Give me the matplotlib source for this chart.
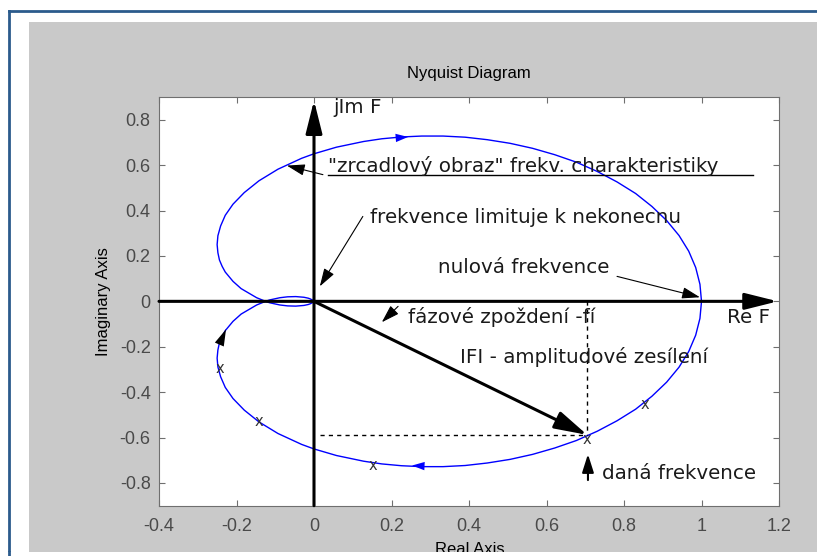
import matplotlib.pyplot as plt
from matplotlib.patches import Rectangle
from matplotlib.lines import Line2D

# lower half of the Nyquist curve (w from 0 to inf)
re_low = [1.000, 0.996, 0.985, 0.967, 0.942, 0.910, 0.872, 0.830, 0.782, 0.731,
          0.677, 0.621, 0.564, 0.506, 0.447, 0.390, 0.333, 0.278, 0.226, 0.175,
          0.128, 0.058, 0.000, -0.032, -0.093, -0.142, -0.180, -0.209, -0.229,
          -0.241, -0.248, -0.250, -0.248, -0.244, -0.237, -0.229, -0.209, -0.188,
          -0.148, -0.125, -0.115, -0.088, -0.068, -0.047, -0.026, -0.015, -0.010,
          -0.002, 0.000]
im_low = [0.000, -0.075, -0.149, -0.221, -0.290, -0.356, -0.418, -0.475, -0.526, -0.572,
          -0.613, -0.646, -0.674, -0.696, -0.712, -0.723, -0.728, -0.728, -0.724, -0.716,
          -0.704, -0.679, -0.650, -0.630, -0.582, -0.531, -0.479, -0.428, -0.379,
          -0.332, -0.289, -0.250, -0.214, -0.182, -0.154, -0.129, -0.088, -0.056,
          -0.016, 0.000, 0.006, 0.016, 0.020, 0.021, 0.018, 0.014, 0.011,
          0.004, 0.000]

# "x" marks at chosen frequencies
mark_re = [0.854, 0.705, 0.152, -0.142, -0.243]
mark_im = [-0.453, -0.607, -0.725, -0.527, -0.295]

# the given frequency point
pt_re, pt_im = 0.705, -0.588

xticks = [-0.4, -0.2, 0, 0.2, 0.4, 0.6, 0.8, 1, 1.2]
xticklabels = ['-0.4', '-0.2', '0', '0.2', '0.4', '0.6', '0.8', '1', '1.2']
yticks = [-0.8, -0.6, -0.4, -0.2, 0, 0.2, 0.4, 0.6, 0.8]
yticklabels = ['-0.8', '-0.6', '-0.4', '-0.2', '0', '0.2', '0.4', '0.6', '0.8']

W, H = 817, 556
fig = plt.figure(figsize=(W / 100, H / 100), dpi=100)
fig.patch.set_facecolor('white')

# gray figure area + blue window frame
fig.add_artist(Rectangle((29 / W, 4 / H), 1, 1 - 22 / H - 4 / H, transform=fig.transFigure,
                         facecolor='#c9c9c9', edgecolor='none', zorder=-5))
fig.add_artist(Line2D([9 / W, 9 / W], [0, 1 - 11 / H], transform=fig.transFigure,
                      color='#2b5b8c', lw=2))
fig.add_artist(Line2D([9 / W, 1], [1 - 11 / H, 1 - 11 / H], transform=fig.transFigure,
                      color='#2b5b8c', lw=2))

ax = fig.add_axes([159 / W, (H - 505.7) / H, 620 / W, 408.7 / H])
ax.set_xlim(-0.4, 1.2)
ax.set_ylim(-0.9, 0.9)

mfont = 'Liberation Sans'
gray = '#6f6f6f'
for s in ax.spines.values():
    s.set_color(gray)
ax.set_xticks(xticks)
ax.set_xticklabels(xticklabels, family=mfont, fontsize=13, color='#4a4a4a')
ax.set_yticks(yticks)
ax.set_yticklabels(yticklabels, family=mfont, fontsize=13, color='#4a4a4a')
ax.tick_params(direction='in', length=4, color=gray, top=True, right=True)
ax.tick_params(axis='x', pad=9)
ax.tick_params(axis='y', pad=6)
ax.set_title('Nyquist Diagram', family=mfont, fontsize=12, pad=14)
ax.set_ylabel('Imaginary Axis', family=mfont, fontsize=12, labelpad=6)
fig.text(470 / W, 1 - 550 / H, 'Real Axis', family=mfont, fontsize=12,
         ha='center', va='center')

# Nyquist curve and its mirror image
ax.plot(re_low, im_low, color='#0000ff', lw=1)
ax.plot(re_low, [-v for v in im_low], color='#0000ff', lw=1)


def arrow(tail, tip, lw=1.0, hl=1.0, hw=0.35, color='black'):
    ax.annotate('', xy=tip, xytext=tail,
                arrowprops=dict(arrowstyle=f'-|>,head_length={hl},head_width={hw}',
                                lw=lw, color=color, shrinkA=0, shrinkB=0,
                                mutation_scale=10))


# direction arrows on the curve
arrow((0.29, -0.726), (0.253, -0.723), lw=0, hl=0.9, hw=0.3, color='#0000ff')
arrow((0.205, 0.719), (0.243, 0.724), lw=0, hl=0.9, hw=0.3, color='#0000ff')
arrow((-0.243, -0.185), (-0.227, -0.123), lw=0, hl=1.2, hw=0.35)

# axes of the complex plane
arrow((-0.4, 0), (1.197, 0), lw=2.2, hl=2.0, hw=0.5)
arrow((0, -0.9), (0, 0.885), lw=2.2, hl=2.0, hw=0.5)
# vector to the given frequency point
arrow((0, 0), (pt_re, pt_im), lw=2.2, hl=2.0, hw=0.55)
ax.plot([pt_re, pt_re], [0, pt_im], color='black', lw=1, ls=(0, (3, 3)))
ax.plot([0.015, pt_re], [pt_im, pt_im], color='black', lw=1, ls=(0, (3, 3)))

tf = dict(family='DejaVu Sans', fontsize=14.3, color='#1a1a1a', ha='left', va='center')
ax.text(0.049, 0.852, 'jIm F', **tf)
ax.text(1.066, -0.07, 'Re F', **tf)
ax.text(0.036, 0.598, '"zrcadlový obraz" frekv. charakteristiky', **tf)
ax.plot([0.036, 1.133], [0.558, 0.558], color='black', lw=1)
arrow((0.023, 0.558), (-0.070, 0.598), lw=0.8, hl=1.1, hw=0.35)
ax.text(0.145, 0.369, 'frekvence limituje k nekonecnu', **tf)
arrow((0.126, 0.374), (0.015, 0.066), lw=0.8, hl=1.1, hw=0.35)
ax.text(0.32, 0.149, 'nulová frekvence', **tf)
arrow((0.782, 0.110), (0.996, 0.018), lw=0.8, hl=1.1, hw=0.35)
ax.text(0.243, -0.07, 'fázové zpoždení -fí', **tf)
arrow((0.217, -0.022), (0.175, -0.092), lw=0.8, hl=1.1, hw=0.35)
ax.text(0.377, -0.246, 'IFI - amplitudové zesílení', **tf)
ax.text(0.743, -0.760, 'daná frekvence', **tf)
arrow((0.707, -0.787), (0.707, -0.673), lw=1.5, hl=1.1, hw=0.35)

for x, y in zip(mark_re, mark_im):
    ax.text(x, y, 'x', family='DejaVu Sans', fontsize=10.5, color='#333333',
            ha='center', va='center')

# white strip at the very bottom clipping the x label, as in the screenshot
fig.add_artist(Rectangle((0, 0), 1, 4 / H, transform=fig.transFigure,
                         facecolor='white', edgecolor='none', zorder=10))
fig.add_artist(Line2D([9 / W, 9 / W], [0, 4 / H], transform=fig.transFigure,
                      color='#2b5b8c', lw=2, zorder=11))

fig.savefig('out.png', dpi=100)
